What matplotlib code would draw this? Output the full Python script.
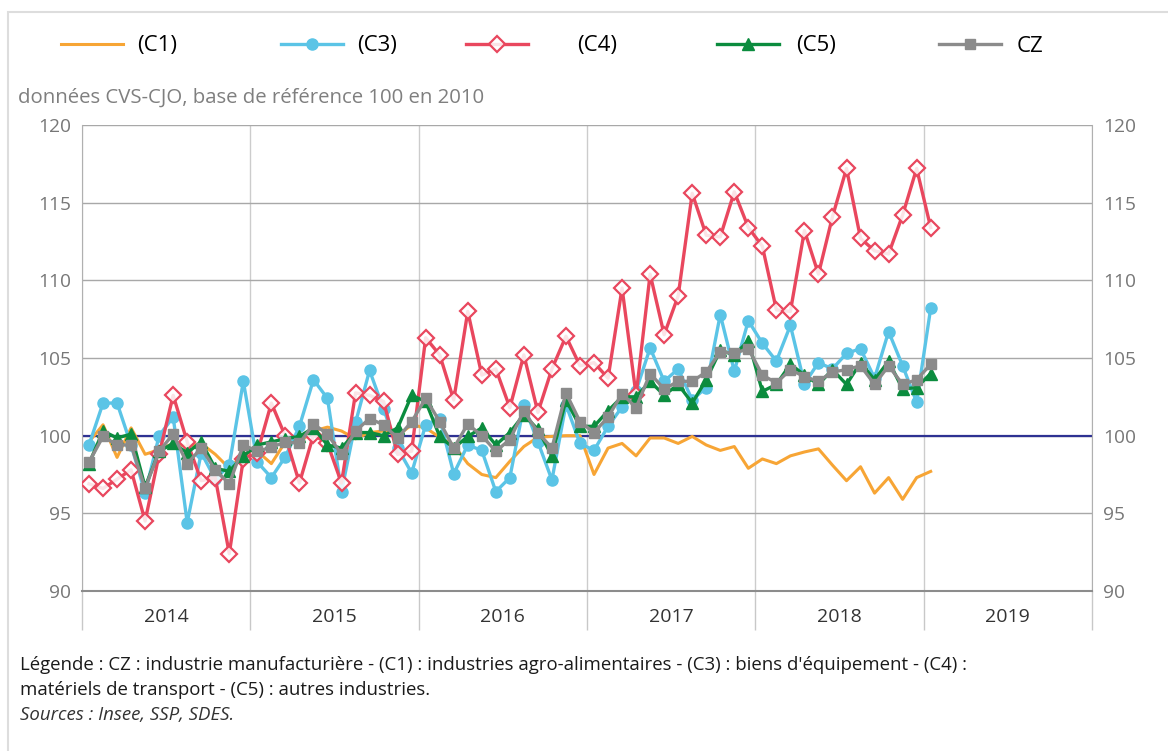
import numpy as np
import matplotlib.pyplot as plt
from matplotlib.patches import Rectangle

plt.rcParams['font.family'] = ['Open Sans', 'DejaVu Sans']

# monthly values, Jan 2014 -> Jan 2019
c1 = [99.6, 100.7, 98.6, 100.5, 98.8, 99.1, 99.5, 99.3, 99.5, 98.8, 97.9, 98.8,
      99.0, 98.2, 99.6, 99.6, 100.3, 100.55, 100.3, 99.8, 100.2, 100.3, 100.0, 100.7,
      100.5, 99.9, 99.4, 98.2, 97.5, 97.3, 98.35, 99.3, 99.9, 99.95, 100.0, 100.0,
      97.5, 99.2, 99.5, 98.7, 99.85, 99.85, 99.5, 99.95, 99.4, 99.05, 99.3, 97.9,
      98.5, 98.2, 98.7, 98.95, 99.15, 98.1, 97.1, 98.0, 96.3, 97.3, 95.9, 97.3, 97.7]
c3 = [99.4, 102.1, 102.1, 99.4, 96.3, 100.0, 101.2, 94.4, 98.9, 97.2, 98.1, 103.5,
      98.3, 97.3, 98.65, 100.6, 103.6, 102.4, 96.4, 100.85, 104.2, 101.7, 99.2, 97.6,
      100.7, 101.1, 97.55, 99.4, 99.05, 96.4, 97.3, 101.95, 99.6, 97.15, 102.0, 99.5,
      99.05, 100.6, 101.85, 102.9, 105.65, 103.5, 104.3, 102.3, 103.1, 107.8, 104.15, 107.4,
      105.95, 104.8, 107.1, 103.35, 104.7, 104.3, 105.3, 105.6, 103.7, 106.7, 104.5, 102.15, 108.2]
c4 = [96.9, 96.6, 97.2, 97.8, 94.5, 98.8, 102.6, 99.6, 97.1, 97.3, 92.4, 98.5,
      98.9, 102.1, 99.95, 96.95, 100.05, 99.5, 96.95, 102.75, 102.6, 102.2, 98.8, 99.0,
      106.3, 105.2, 102.3, 108.0, 103.9, 104.3, 101.8, 105.2, 101.5, 104.3, 106.4, 104.5,
      104.7, 103.7, 109.5, 102.6, 110.4, 106.5, 109.0, 115.6, 112.9, 112.8, 115.7, 113.4,
      112.2, 108.1, 108.0, 113.2, 110.4, 114.1, 117.2, 112.7, 111.9, 111.7, 114.2, 117.2, 113.4]
c5 = [98.2, 100.3, 99.85, 100.1, 96.7, 99.0, 99.5, 98.9, 99.6, 97.9, 97.7, 98.7,
      99.4, 99.6, 99.8, 99.95, 100.5, 99.4, 99.2, 100.2, 100.2, 100.0, 100.5, 102.6,
      102.2, 99.95, 99.2, 99.95, 100.5, 99.4, 100.2, 101.35, 100.4, 98.7, 102.3, 100.6,
      100.6, 101.6, 102.5, 102.5, 103.5, 102.6, 103.3, 102.1, 103.6, 105.5, 105.2, 106.1,
      102.85, 103.3, 104.6, 103.9, 103.3, 104.25, 103.3, 104.7, 103.6, 104.8, 103.0, 103.1, 104.0]
cz = [98.3, 99.95, 99.4, 99.4, 96.6, 99.0, 100.1, 98.2, 99.2, 97.8, 96.9, 99.4,
      99.0, 99.25, 99.6, 99.5, 100.75, 100.1, 98.8, 100.3, 101.1, 100.7, 99.85, 100.9,
      102.4, 100.9, 99.2, 100.75, 100.0, 99.0, 99.75, 101.6, 100.2, 99.2, 102.75, 100.9,
      100.2, 101.2, 102.7, 101.8, 104.0, 103.0, 103.5, 103.5, 104.1, 105.4, 105.3, 105.6,
      103.9, 103.4, 104.25, 103.8, 103.5, 104.1, 104.25, 104.5, 103.3, 104.5, 103.3, 103.6, 104.6]

years = ['2014', '2015', '2016', '2017', '2018', '2019']
names = ['(C1)', '(C3)', '(C4)', '(C5)', 'CZ']

W, H = 1168, 751
x = 2014 + (np.arange(len(c1)) + 0.5) / 12

fig = plt.figure(figsize=(W / 100, H / 100), dpi=100)
ax = fig.add_axes([82 / W, 1 - 591 / H, (1092 - 82) / W, (591 - 125) / H])
ax.set_xlim(2014, 2020)
ax.set_ylim(90, 120)

ax.axhline(100, color='#2e3192', lw=1.6, zorder=2)
st = dict(lw=2.4, zorder=3)
l1, = ax.plot(x, c1, color='#f7a535', lw=2.2, zorder=3)
l3, = ax.plot(x, c3, color='#5bc4e6', marker='o', ms=8, **st)
l4, = ax.plot(x, c4, color='#e9475e', marker='D', ms=8, mfc=(1, 1, 1, 0.85),
              mec='#e9475e', mew=1.6, **st)
l5, = ax.plot(x, c5, color='#0b8c3e', marker='^', ms=9, **st)
lz, = ax.plot(x, cz, color='#8b8b8b', marker='s', ms=7.5, **st)

# grid / axes
ax.set_yticks(range(90, 121, 5))
ax.yaxis.grid(True, color='#a8a8a8', lw=1)
ax.set_xticks(range(2014, 2021))
ax.set_xticklabels([])
ax.xaxis.grid(True, color='#cccccc', lw=1)
ax.set_axisbelow(True)
ax.set_xticks([int(y) + 0.5 for y in years], minor=True)
ax.set_xticklabels(years, minor=True)
ax.tick_params(axis='x', which='major', length=28, width=1, color='#c8c8c8')
ax.tick_params(axis='x', which='minor', length=0, pad=12, labelsize=14, labelcolor='#333333')
ax.tick_params(axis='y', left=True, right=True, labelleft=True, labelright=True,
               length=0, pad=8, labelsize=13.8, labelcolor='#777777')
ax.spines['top'].set_visible(False)
ax.spines['bottom'].set_color('#8c8c8c')
ax.spines['bottom'].set_linewidth(1.5)
for s in ['left', 'right']:
    ax.spines[s].set_color('#b0b0b0')

# legend entries placed one by one: (line start, text start) in pixels
fs = 16
em = fs * 100 / 72
pos = [(61, 137), (281, 357), (466, 577), (717, 796), (939, 1017)]
for h, n, (x0, t0) in zip([l1, l3, l4, l5, lz], names, pos):
    fig.legend([h], [n], loc='center left', bbox_to_anchor=(x0 / W, 1 - 46 / H),
               frameon=False, fontsize=fs, handlelength=62 / em,
               handletextpad=(t0 - x0 - 62) / em, borderpad=0, borderaxespad=0)

fig.text(18 / W, 1 - 98 / H, 'données CVS-CJO, base de référence 100 en 2010',
         fontsize=14.7, color='#7f7f7f', va='center')
cap = dict(fontsize=13.4, color='#1a1a1a', va='center')
fig.text(20 / W, 1 - 665 / H,
         "Légende : CZ : industrie manufacturière - (C1) : industries agro-alimentaires - "
         "(C3) : biens d'équipement - (C4) :", **cap)
fig.text(20 / W, 1 - 690 / H, 'matériels de transport - (C5) : autres industries.', **cap)
fig.text(20 / W, 1 - 715 / H, 'Sources : Insee, SSP, SDES.', fontsize=13.4,
         style='italic', color='#333333', va='center')

fig.add_artist(Rectangle((8 / W, -0.02), 1.05, 1 - 12 / H + 0.02, transform=fig.transFigure,
                         fill=False, ec='#dddddd', lw=1.5))

fig.savefig('out.png', dpi=100)
